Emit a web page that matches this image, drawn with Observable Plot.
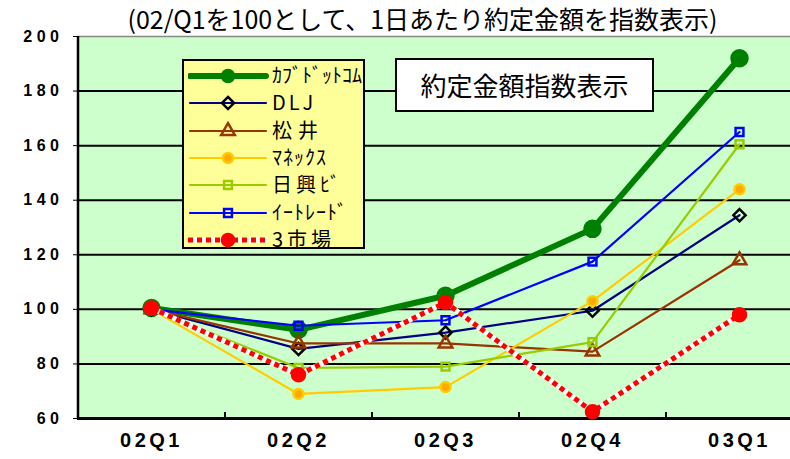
<!DOCTYPE html>
<html><head><meta charset="utf-8">
<script src="https://cdn.jsdelivr.net/npm/d3@7"></script>
<script src="https://cdn.jsdelivr.net/npm/@observablehq/plot@0.6"></script>
<style>
body{margin:0;background:#fff;}
#wrap{position:relative;width:790px;height:459px;overflow:hidden;background:#fff;}
#chart svg text{font-family:"Liberation Sans",Arial,sans-serif !important;font-weight:bold !important;fill:#000 !important;}
#chart svg [aria-label^="y-axis"] text{font-size:16px !important;letter-spacing:4.5px !important;}
#chart svg [aria-label^="x-axis"] text{font-family:"Liberation Sans Narrow","Liberation Sans",sans-serif !important;font-size:20px !important;letter-spacing:3.5px !important;}
#title{position:absolute;left:0;width:845px;top:2px;text-align:center;font-family:"Noto Sans CJK JP",sans-serif;font-size:25px;line-height:32px;color:#000;white-space:nowrap;}
#legend{position:absolute;left:182px;top:59px;width:179px;height:186px;border:2px solid #000;background:#ffff99;}
.row{position:absolute;left:0;height:24px;width:179px;}
.row svg{position:absolute;left:4px;top:0;}
.row span{position:absolute;left:88px;top:-2px;font-family:"Noto Sans CJK JP",sans-serif;font-size:20px;line-height:26px;color:#000;white-space:nowrap;}
#note{position:absolute;left:395px;top:58px;width:255px;height:50px;border:2px solid #000;background:#fff;font-family:"Noto Sans CJK JP",sans-serif;font-size:26px;line-height:50px;text-align:center;color:#000;}
</style></head><body>
<div id="wrap"><div id="chart"></div><div id="title"></div><div id="legend"></div><div id="note"></div></div>
<script>
const quarters = ["02Q1","02Q2","02Q3","02Q4","03Q1"];
const seriesNames = ["ｶﾌﾞﾄﾞｯﾄｺﾑ","DLJ","松井","ﾏﾈｯｸｽ","日興ﾋﾞ","ｲｰﾄﾚｰﾄﾞ","3市場"];
const kabucom = [100.5, 92.5, 105, 129.5, 192];
const dlj     = [100, 85.5, 91.5, 99.5, 134.5];
const matsui  = [100, 87.5, 87.5, 84.5, 118];
const monex   = [100, 69, 71.5, 103, 144];
const nikko   = [100, 78.5, 79, 88, 160.5];
const etrade  = [100, 94, 96, 117.5, 165];
const market3 = [100.5, 76, 102.5, 62.5, 98];
const yTicks = [60, 80, 100, 120, 140, 160, 180, 200];
const titleText = "(02/Q1を100として、1日あたり約定金額を指数表示)";
const noteText = "約定金額指数表示";

const valueLists = [kabucom, dlj, matsui, monex, nikko, etrade, market3];
const rows = [];
seriesNames.forEach((s, i) => quarters.forEach((q, j) => rows.push({series: s, quarter: q, value: valueLists[i][j]})));

const styles = {
  "ｶﾌﾞﾄﾞｯﾄｺﾑ": {stroke: "#008000", width: 6, symbol: "circle", r: 8, lr: 6, fill: "#008000", mStroke: "#008000", ls: 0},
  "DLJ":        {stroke: "#000080", width: 2.2, symbol: "diamond2", r: 5.5, lr: 5.5, fill: "none", mStroke: "#000", ls: 3},
  "松井":       {stroke: "#993300", width: 2.2, symbol: "triangle2", r: 6.5, lr: 6.5, fill: "none", mStroke: "#993300", ls: 6},
  "ﾏﾈｯｸｽ":     {stroke: "#ffcc00", width: 2.2, symbol: "circle", r: 5, lr: 5, fill: "#ffaa00", mStroke: "#ffcc00", ls: 1},
  "日興ﾋﾞ":     {stroke: "#99cc00", width: 2.2, symbol: "square2", r: 5, lr: 5, fill: "none", mStroke: "#99cc00", ls: 4},
  "ｲｰﾄﾚｰﾄﾞ":   {stroke: "#0000ff", width: 2.2, symbol: "square2", r: 5, lr: 5, fill: "none", mStroke: "#0000ff", ls: 1},
  "3市場":      {stroke: "#ff0000", width: 5, symbol: "circle", r: 6.5, lr: 6, fill: "#ff0000", mStroke: "#ff0000", ls: 4, dashed: true}
};

const half = 73.5;
const marks = [
  Plot.frame({fill: "#ccffcc", stroke: null}),
  Plot.ruleY(yTicks.filter(t => t > 60 && t < 200), {stroke: "#000", strokeWidth: 2}),
  Plot.ruleY([200], {stroke: "#888", strokeWidth: 1.5}),
  Plot.ruleX(quarters.slice(0, 1), {dx: -half, stroke: "#000", strokeWidth: 2.5}),
  Plot.ruleX(quarters.slice(1), {dx: -half, stroke: "#000", strokeWidth: 2, insetTop: 376}),
  Plot.ruleY([60], {stroke: "#000", strokeWidth: 3})
];
seriesNames.forEach(s => {
  const st = styles[s];
  const data = rows.filter(d => d.series === s);
  if (st.dashed) {
    marks.push(Plot.line(data, {x: "quarter", y: "value", stroke: "#fff", strokeWidth: st.width}));
    marks.push(Plot.line(data, {x: "quarter", y: "value", stroke: st.stroke, strokeWidth: st.width, strokeDasharray: "5,4", strokeLinecap: "butt"}));
  } else {
    marks.push(Plot.line(data, {x: "quarter", y: "value", stroke: st.stroke, strokeWidth: st.width}));
  }
  marks.push(Plot.dot(data, {x: "quarter", y: "value", symbol: () => st.symbol, r: st.r, fill: st.fill, stroke: st.mStroke, strokeWidth: 2.5}));
});

const chart = Plot.plot({
  width: 790, height: 459,
  marginTop: 36, marginBottom: 41, marginLeft: 77, marginRight: -22,
  style: {background: "transparent", overflow: "visible"},
  x: {type: "point", domain: quarters, padding: 0.5, tickSize: 0, tickPadding: 14, label: null},
  y: {domain: [60, 200], ticks: yTicks, tickSize: 4, tickPadding: 10, label: null, tickFormat: d => String(d)},
  symbol: {type: "identity"},
  marks
});
document.getElementById("chart").appendChild(chart);
document.getElementById("title").textContent = titleText;
document.getElementById("note").textContent = noteText;

// legend
const legend = document.getElementById("legend");
seriesNames.forEach((s, i) => {
  const st = styles[s];
  const row = document.createElement("div");
  row.className = "row";
  row.style.top = (3 + i * 27.3) + "px";
  const sym = {circle: d3.symbolCircle, diamond2: d3.symbolDiamond2, triangle2: d3.symbolTriangle2, square2: d3.symbolSquare2}[st.symbol];
  const path = d3.symbol(sym, Math.PI * st.lr * st.lr)();
  let line;
  if (st.dashed) {
    line = `<line x1="0" x2="80" y1="12" y2="12" stroke="#fff" stroke-width="${st.width}"/><line x1="0" x2="80" y1="12" y2="12" stroke="${st.stroke}" stroke-width="${st.width}" stroke-dasharray="5,4"/>`;
  } else {
    line = `<line x1="2" x2="78" y1="12" y2="12" stroke="${st.stroke}" stroke-width="${st.width}" stroke-linecap="round"/>`;
  }
  row.innerHTML = `<svg width="82" height="24">${line}<path transform="translate(40,12)" d="${path}" fill="${st.fill}" stroke="${st.mStroke}" stroke-width="2.5"/></svg><span style="letter-spacing:${st.ls}px">${s}</span>`;
  legend.appendChild(row);
});
</script>
</body></html>
